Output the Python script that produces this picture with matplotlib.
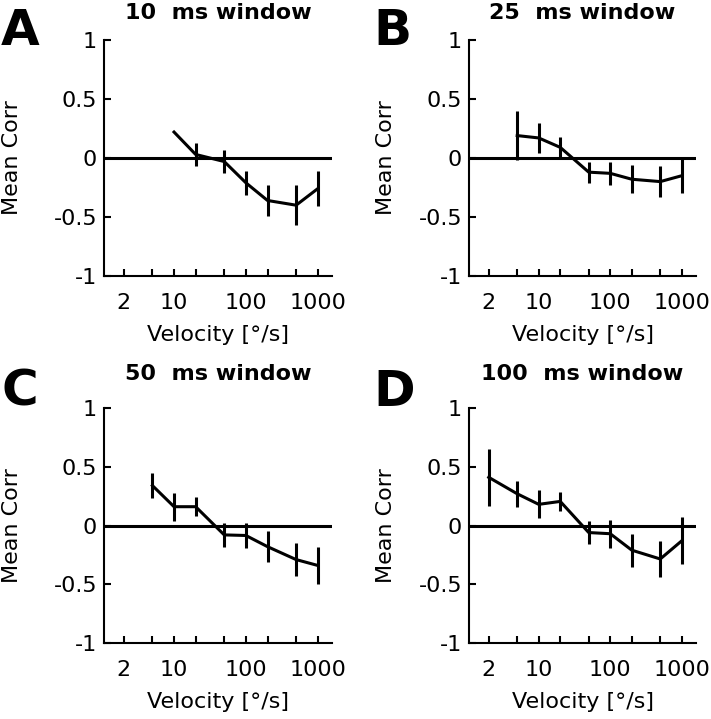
import numpy as np
import matplotlib
matplotlib.use("Agg")
import matplotlib.pyplot as plt

plt.rcParams['font.family'] = ['DejaVu Sans']

# velocities (deg/s) and mean correlation +- error, per analysis window
vel_a = [10, 20, 50, 100, 200, 500, 1000]
corr_a = [0.22, 0.03, -0.03, -0.21, -0.36, -0.40, -0.26]
err_a = [0.0, 0.10, 0.10, 0.10, 0.13, 0.17, 0.15]

vel_b = [5, 10, 20, 50, 100, 200, 500, 1000]
corr_b = [0.19, 0.17, 0.09, -0.12, -0.13, -0.18, -0.20, -0.15]
err_b = [0.21, 0.13, 0.09, 0.09, 0.10, 0.12, 0.13, 0.15]

vel_c = [5, 10, 20, 50, 100, 200, 500, 1000]
corr_c = [0.34, 0.16, 0.16, -0.08, -0.085, -0.18, -0.29, -0.34]
err_c = [0.11, 0.12, 0.08, 0.10, 0.11, 0.13, 0.14, 0.16]

vel_d = [2, 5, 10, 20, 50, 100, 200, 500, 1000]
corr_d = [0.41, 0.27, 0.18, 0.205, -0.06, -0.07, -0.21, -0.285, -0.13]
err_d = [0.245, 0.11, 0.12, 0.08, 0.10, 0.12, 0.14, 0.15, 0.20]

windows = ['10', '25', '50', '100']
letters = ['A', 'B', 'C', 'D']

xticks = [2, 5, 10, 20, 50, 100, 200, 500, 1000]
xticklabels = ['2', '', '10', '', '', '100', '', '', '1000']
yticks = [-1, -0.5, 0, 0.5, 1]
yticklabels = ['-1', '-0.5', '0', '0.5', '1']

W, H = 711, 719
fig = plt.figure(figsize=(W / 100, H / 100), dpi=100)

# axes boxes in pixels: left, top, right, bottom
boxes = [(104, 40, 332, 276), (469, 40, 696, 276),
         (104, 408, 332, 643), (469, 408, 696, 643)]
ylab_x = [12, 386, 12, 386]       # centre of y label, px
title_base = [19, 19, 380, 380]   # title baseline, px
letter_pos = [(1, 45), (373, 45), (2, 406), (373, 406)]
data = [(vel_a, corr_a, err_a), (vel_b, corr_b, err_b),
        (vel_c, corr_c, err_c), (vel_d, corr_d, err_d)]

for i, (l, t, r, b) in enumerate(boxes):
    ax = fig.add_axes([l / W, 1 - b / H, (r - l) / W, (b - t) / H])
    v, c, e = data[i]
    ax.axhline(0, color='black', lw=2.2, zorder=1)
    ax.errorbar(v, c, yerr=e, color='black', lw=2.2, elinewidth=2.2,
                capsize=0, zorder=2)
    ax.set_xscale('log')
    ax.set_xlim(1.06, 1580)
    ax.set_ylim(-1, 1)
    ax.set_xticks(xticks)
    ax.set_xticklabels(xticklabels)
    ax.minorticks_off()
    ax.set_yticks(yticks)
    ax.set_yticklabels(yticklabels)
    ax.tick_params(direction='in', length=5, width=1.5, labelsize=16)
    ax.tick_params(axis='x', pad=12)
    ax.tick_params(axis='y', pad=5)
    for s in ['top', 'right']:
        ax.spines[s].set_visible(False)
    for s in ['left', 'bottom']:
        ax.spines[s].set_linewidth(1.5)
    ax.set_xlabel('Velocity [°/s]', fontsize=16, labelpad=9)
    ax.set_ylabel('Mean Corr', fontsize=16, va='center')
    ax.yaxis.set_label_coords((ylab_x[i] - l) / (r - l), 0.5)
    fig.text((l + r) / 2 / W, 1 - title_base[i] / H, windows[i] + '  ms window',
             fontsize=16, fontweight='bold', ha='center', va='baseline')
    lx, ly = letter_pos[i]
    fig.text(lx / W, 1 - ly / H, letters[i], fontsize=36,
             fontweight='bold', ha='left', va='baseline')

fig.savefig('out.png', dpi=100)
